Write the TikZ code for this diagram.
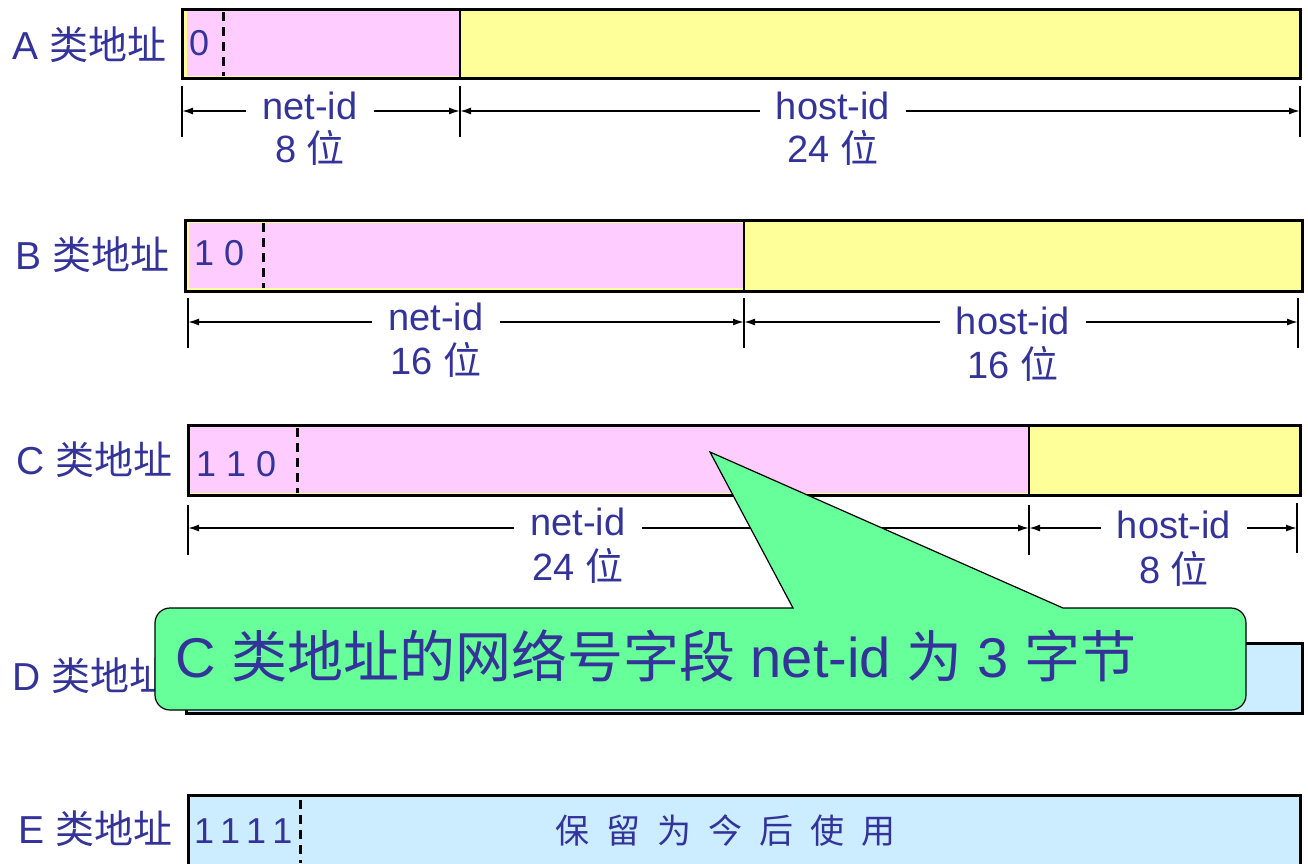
\documentclass[tikz,border=0pt]{standalone}
\usepackage{fontspec}
\setmainfont{Liberation Sans}
\newfontfamily\cjk{Noto Sans CJK SC}
\usetikzlibrary{arrows.meta}
\definecolor{txtblue}{HTML}{333399}
\definecolor{pnk}{HTML}{FFCCFF}
\definecolor{ylw}{HTML}{FFFF99}
\definecolor{lblue}{HTML}{CCECFF}
\definecolor{grn}{HTML}{66FF99}
\newcommand{\zh}[1]{{\cjk #1}}
\begin{document}
\begin{tikzpicture}[x=1pt,y=-1pt,
  boxline/.style={draw=black,line width=3pt},
  divider/.style={draw=black,line width=2.5pt},
  dashsep/.style={draw=black,line width=3pt,dash pattern=on 9pt off 6pt},
  tickline/.style={draw=black,line width=1.6pt},
  dimline/.style={draw=black,line width=1.6pt,-{Latex[length=11pt,width=7pt]}},
  lbl/.style={font=\fontsize{39}{40}\selectfont,text=txtblue,anchor=base west,inner sep=0pt},
  bits/.style={font=\fontsize{36}{40}\selectfont,text=txtblue,anchor=base west,inner sep=0pt},
  dimtxt/.style={font=\fontsize{38}{40}\selectfont,text=txtblue,anchor=base,inner xsep=16pt,inner ysep=0pt},
  callout/.style={draw=black,line width=1.2pt,fill=grn},
  calltxt/.style={font=\fontsize{56}{60}\selectfont,text=txtblue,anchor=base west,inner sep=0pt}
]
\useasboundingbox (0,0) rectangle (1308,863);

% ---------------- Row A ----------------
\fill[ylw] (182,9) rectangle (1300,78);
\fill[pnk] (187,11) rectangle (460,76);
\draw[divider] (460,9) -- (460,78);
\draw[dashsep] (223,12) -- (223,76);
\draw[boxline] (182,9) rectangle (1300,78);
\node[lbl] (lA) at (12,59) {A \zh{类地址}};
\node[bits] (bA) at (189,55) {0};
\coordinate (a0) at (182,111);
\coordinate (a1) at (460,111);
\coordinate (a2) at (1300,111);
\draw[tickline] (182,86) -- (182,137);
\draw[tickline] (460,86) -- (460,137);
\draw[tickline] (1300,86) -- (1300,137);
\node[dimtxt] (nA) at (310,119) {net-id};
\node[dimtxt] (nAb) at (310,162) {8 \zh{位}};
\node[dimtxt] (hA) at (833,119) {host-id};
\node[dimtxt] (hAb) at (833,162) {24 \zh{位}};
\draw[dimline] (nA.west |- a0) -- (a0);
\draw[dimline] (nA.east |- a1) -- (a1);
\draw[dimline] (hA.west |- a1) -- (a1);
\draw[dimline] (hA.east |- a2) -- (a2);

% ---------------- Row B ----------------
\fill[ylw] (185,220) rectangle (1302,291);
\fill[pnk] (189,223) rectangle (744,288);
\draw[divider] (744,220) -- (744,291);
\draw[dashsep] (263,223) -- (263,288);
\draw[boxline] (185,220) rectangle (1302,291);
\node[lbl] (lB) at (15,269) {B \zh{类地址}};
\node[bits] (bB) at (194,265) {1 0};
\coordinate (b0) at (188,322);
\coordinate (b1) at (744,322);
\coordinate (b2) at (1298,322);
\draw[tickline] (188,298) -- (188,348);
\draw[tickline] (744,298) -- (744,348);
\draw[tickline] (1298,298) -- (1298,348);
\node[dimtxt] (nB) at (436,330) {net-id};
\node[dimtxt] (nBb) at (436,374) {16 \zh{位}};
\node[dimtxt] (hB) at (1013,334) {host-id};
\node[dimtxt] (hBb) at (1013,378) {16 \zh{位}};
\draw[dimline] (nB.west |- b0) -- (b0);
\draw[dimline] (nB.east |- b1) -- (b1);
\draw[dimline] (hB.west |- b1) -- (b1);
\draw[dimline] (hB.east |- b2) -- (b2);

% ---------------- Row C ----------------
\fill[ylw] (188,425) rectangle (1300,495);
\fill[pnk] (190,427) rectangle (1029,493);
\draw[divider] (1029,425) -- (1029,495);
\draw[dashsep] (297,428) -- (297,493);
\draw[boxline] (188,425) rectangle (1300,495);
\node[lbl] (lC) at (16,474) {C \zh{类地址}};
\node[bits] (bC) at (196,476) {1 1 0};
\coordinate (c0) at (188,528);
\coordinate (c1) at (1029,528);
\coordinate (c2) at (1297,528);
\draw[tickline] (188,505) -- (188,555);
\draw[tickline] (1029,505) -- (1029,555);
\draw[tickline] (1297,503) -- (1297,553);
\node[dimtxt] (nC) at (578,535) {net-id};
\node[dimtxt] (nCb) at (578,580) {24 \zh{位}};
\node[dimtxt] (hC) at (1174,538) {host-id};
\node[dimtxt] (hCb) at (1174,583) {8 \zh{位}};
\draw[dimline] (nC.west |- c0) -- (c0);
\draw[dimline] (nC.east |- c1) -- (c1);
\draw[dimline] (hC.west |- c1) -- (c1);
\draw[dimline] (hC.east |- c2) -- (c2);

% ---------------- Row D ----------------
\fill[lblue] (186,643) rectangle (1302,713);
\draw[boxline] (186,643) rectangle (1302,713);
\node[lbl] (lD) at (12,690) {D \zh{类地址}};

% ---------------- Row E ----------------
\fill[lblue] (188,795) rectangle (1300,880);
\draw[boxline] (188,795) rectangle (1300,880);
\draw[dashsep] (300,800) -- (300,863);
\node[lbl] (lE) at (18,843) {E \zh{类地址}};
\node[bits] (bE) at (194,843) {1\hspace{6pt}1\hspace{6pt}1\hspace{6pt}1};
\node[font=\fontsize{34}{40}\selectfont,text=txtblue,anchor=base,inner sep=0pt] (rE) at (725,843)
  {\zh{保\hspace{17pt}留\hspace{17pt}为\hspace{17pt}今\hspace{17pt}后\hspace{17pt}使\hspace{17pt}用}};

% ---------------- Callout ----------------
\draw[callout] (155,660) [rounded corners=15pt] -- (155,608) [sharp corners] -- (793,608) -- (710,452)
  -- (1063,608) [rounded corners=15pt] -- (1246,608) -- (1246,710) -- (155,710) -- cycle;
\node[calltxt] (cT) at (175,677) {C \zh{类地址的网络号字段} net-id \zh{为} 3 \zh{字节}};
\end{tikzpicture}
\end{document}
